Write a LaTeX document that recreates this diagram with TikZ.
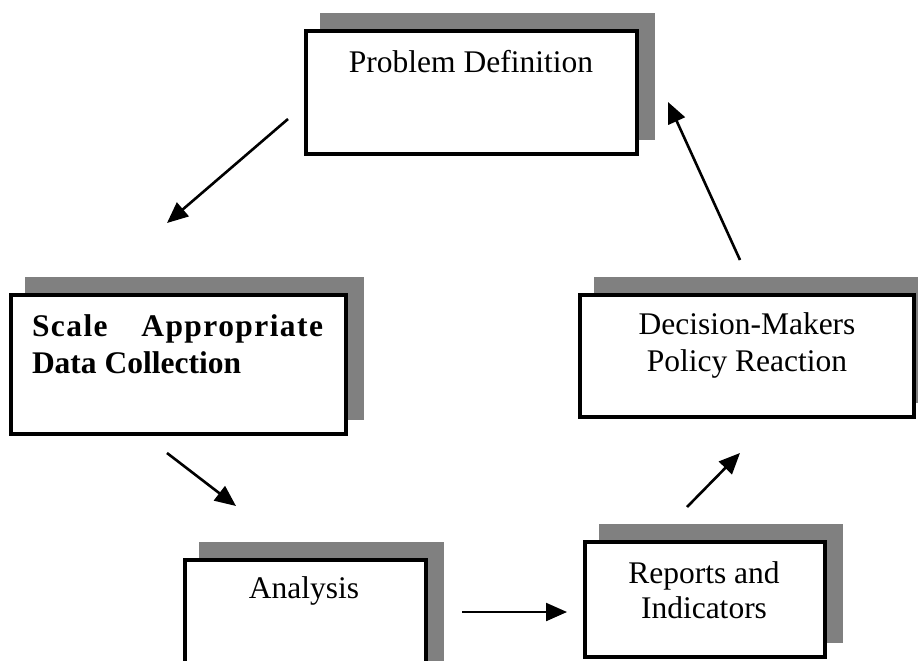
\documentclass[tikz,border=0pt]{standalone}
\usepackage{fontspec}
\setmainfont{Liberation Serif}
\usetikzlibrary{calc,arrows.meta}
\definecolor{shadowgray}{HTML}{808080}
\pgfdeclarelayer{bg}
\pgfsetlayers{bg,main}
\begin{document}
\begin{tikzpicture}[x=1pt,y=-1pt,
  box/.style={draw, line width=4pt, fill=white, inner sep=0pt, outer sep=0pt},
  txt/.style={font=\fontsize{31.5}{36.5}\selectfont, inner sep=0pt, outer sep=0pt},
  arr/.style={line width=2.6pt, -{Triangle[length=21pt,width=18pt]}}]
\clip (0,0) rectangle (918,661);
% boxes
\node[box, minimum width=331pt, minimum height=123pt] (P) at (471.5,92.5) {};
\node[box, minimum width=334.5pt, minimum height=139pt] (S) at (178.25,364.5) {};
\node[box, minimum width=334pt, minimum height=122pt] (D) at (747,356) {};
\node[box, minimum width=241pt, minimum height=121pt] (A) at (305.5,620) {};
\node[box, minimum width=239.5pt, minimum height=115pt] (R) at (704.75,599.5) {};
% shadows
\begin{pgfonlayer}{bg}
\foreach \n in {P,S,D,A,R}
  \fill[shadowgray] ($(\n.north west)+(14,-18)$) rectangle ($(\n.south east)+(18,-14)$);
\end{pgfonlayer}
% texts
\node[txt, anchor=base] (tP) at (471,72) {Problem Definition};
\node[txt, anchor=base west] (tS1) at (32,336) {\bfseries\addfontfeatures{LetterSpace=4.5}\hbox to 291pt{Scale\hfill Appropriate}};
\node[txt, anchor=base west] (tS2) at (32,373) {\bfseries Data Collection};
\node[txt, anchor=base] (tD1) at (747,334) {Decision-Makers};
\node[txt, anchor=base] (tD2) at (747,371) {Policy Reaction};
\node[txt, anchor=base] (tA) at (304,598) {Analysis};
\node[txt, anchor=base] (tR1) at (704,583) {Reports and};
\node[txt, anchor=base] (tR2) at (704,618) {Indicators};
% arrow ends
\coordinate (a1s) at (288,119);  \coordinate (a1e) at (167,223);
\coordinate (a2s) at (167,453);  \coordinate (a2e) at (236,506);
\coordinate (a3s) at (462,612);  \coordinate (a3e) at (567,612);
\coordinate (a4s) at (687,507);  \coordinate (a4e) at (740,453);
\coordinate (a5s) at (740,260);  \coordinate (a5e) at (668,102);
\draw[arr] (a1s) -- (a1e);
\draw[arr] (a2s) -- (a2e);
\draw[arr, line width=2.2pt] (a3s) -- (a3e);
\draw[arr] (a4s) -- (a4e);
\draw[arr] (a5s) -- (a5e);
\end{tikzpicture}
\end{document}
